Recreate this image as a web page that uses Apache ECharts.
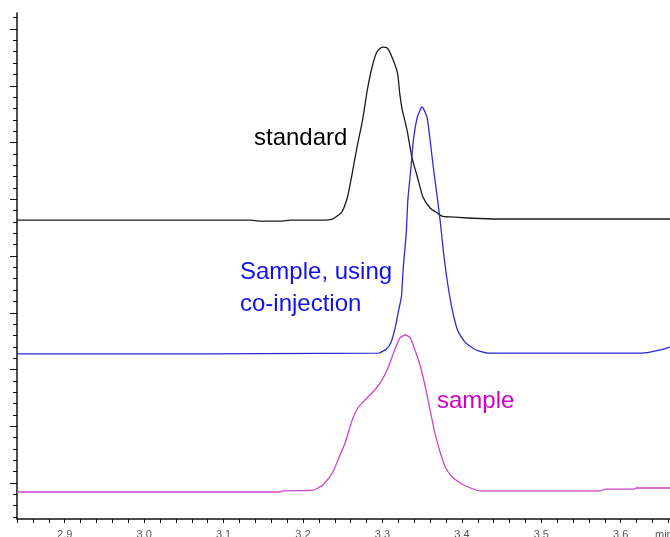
<!DOCTYPE html>
<html>
<head>
<meta charset="utf-8">
<script src="https://cdn.jsdelivr.net/npm/echarts@6/dist/echarts.min.js"></script>
<style>
  html, body { margin: 0; padding: 0; background: #fff; }
  #chart { width: 670px; height: 537px; }
</style>
</head>
<body>
<div id="chart"></div>
<script>
// retention time (min) and detector signal (arbitrary units)
const standardTime = [2.840, 3.134, 3.146, 3.171, 3.184, 3.228, 3.237, 3.243, 3.249, 3.256, 3.262, 3.268, 3.275, 3.281, 3.287, 3.293, 3.300, 3.306, 3.312, 3.319, 3.322, 3.325, 3.331, 3.337, 3.344, 3.351, 3.360, 3.369, 3.375, 3.385, 3.407, 3.448, 3.662];
const standardSignal = [23.17, 23.17, 23.08, 23.08, 23.17, 23.17, 23.26, 23.52, 23.88, 25.20, 27.31, 29.60, 31.98, 34.63, 36.65, 37.97, 38.41, 38.33, 37.53, 36.12, 34.19, 32.86, 31.10, 28.72, 26.96, 25.20, 24.23, 23.79, 23.52, 23.44, 23.35, 23.26, 23.26];

const coinjTime = [2.840, 3.295, 3.305, 3.311, 3.316, 3.320, 3.324, 3.326, 3.330, 3.332, 3.336, 3.339, 3.344, 3.350, 3.356, 3.360, 3.364, 3.369, 3.373, 3.377, 3.382, 3.388, 3.395, 3.405, 3.418, 3.433, 3.625, 3.637, 3.650, 3.662];
const coinjSignal = [11.37, 11.45, 11.81, 12.42, 13.66, 15.07, 16.48, 18.77, 22.03, 24.93, 27.84, 30.22, 32.25, 33.13, 32.25, 30.22, 27.84, 25.20, 22.91, 20.26, 17.62, 15.24, 13.39, 12.33, 11.72, 11.45, 11.45, 11.54, 11.72, 11.98];

const sampleTime = [2.840, 3.171, 3.174, 3.213, 3.219, 3.225, 3.237, 3.244, 3.253, 3.262, 3.269, 3.278, 3.288, 3.297, 3.306, 3.314, 3.322, 3.329, 3.335, 3.341, 3.348, 3.354, 3.360, 3.366, 3.373, 3.379, 3.388, 3.398, 3.411, 3.423, 3.574, 3.581, 3.616, 3.620, 3.662];
const sampleSignal = [-0.79, -0.79, -0.70, -0.62, -0.44, -0.18, 0.88, 2.03, 3.52, 5.55, 6.61, 7.31, 8.02, 8.81, 9.96, 11.45, 12.78, 13.04, 12.78, 11.72, 10.22, 8.46, 6.43, 4.41, 2.64, 1.41, 0.53, 0.00, -0.44, -0.70, -0.70, -0.53, -0.53, -0.44, -0.44];

const xLabels = [2.9, 3.0, 3.1, 3.2, 3.3, 3.4, 3.5, 3.6];
const yMajorTicks = [0, 5, 10, 15, 20, 25, 30, 35, 40];
const yMinorTicks = [-3, -2, -1, 0, 1, 2, 3, 4, 5, 6, 7, 8, 9, 10, 11, 12, 13, 14, 15, 16, 17, 18, 19, 20,
    21, 22, 23, 24, 25, 26, 27, 28, 29, 30, 31, 32, 33, 34, 35, 36, 37, 38, 39, 40, 41];

const FONT = "'Liberation Sans', Arial, sans-serif";
const Y_MIN = -3.17;
const Y_MAX = 41.41;

function pairs(xs, ys) {
    return xs.map((x, i) => [x, ys[i]]);
}

function trace(name, xs, ys, color) {
    return {
        name: name,
        type: 'line',
        data: pairs(xs, ys),
        showSymbol: false,
        smooth: 0.2,
        lineStyle: { color: color, width: 1.3 },
        animation: false
    };
}

const chart = echarts.init(document.getElementById('chart'));

chart.setOption({
    backgroundColor: '#fff',
    animation: false,
    grid: { left: 17, right: 0, top: 13, bottom: 18, containLabel: false, outerBoundsMode: 'none' },
    xAxis: {
        type: 'value',
        min: 2.84,
        max: 3.662,
        interval: 0.02,
        splitLine: { show: false },
        axisLine: { onZero: false, lineStyle: { color: '#111', width: 1.5 } },
        axisTick: { length: 4, lineStyle: { color: '#111' } },
        axisLabel: {
            customValues: xLabels,
            margin: 10,
            fontSize: 11,
            fontFamily: FONT,
            color: '#555',
            formatter: v => Math.abs(v * 10 - Math.round(v * 10)) < 1e-6 ? v.toFixed(1) : ''
        }
    },
    yAxis: [
        {
            type: 'value',
            min: Y_MIN,
            max: Y_MAX,
            splitLine: { show: false },
            axisLine: { show: true, onZero: false, lineStyle: { color: '#111', width: 1.5 } },
            axisTick: { customValues: yMinorTicks, length: 4, lineStyle: { color: '#111' } },
            axisLabel: { show: false }
        },
        {
            type: 'value',
            min: Y_MIN,
            max: Y_MAX,
            position: 'left',
            splitLine: { show: false },
            axisLine: { show: false },
            axisTick: { show: true, customValues: yMajorTicks, length: 7, lineStyle: { color: '#111' } },
            axisLabel: { show: false }
        }
    ],
    series: [
        trace('standard', standardTime, standardSignal, '#1a1a1a'),
        trace('Sample, using co-injection', coinjTime, coinjSignal, '#2a2ad6'),
        trace('sample', sampleTime, sampleSignal, '#cc44cc')
    ],
    graphic: [
        { type: 'text', left: 254, top: 126, style: { text: 'standard', font: '24px ' + FONT, fill: '#000' } },
        { type: 'text', left: 240, top: 260, style: { text: 'Sample, using', font: '24px ' + FONT, fill: '#1010f0' } },
        { type: 'text', left: 240, top: 292, style: { text: 'co-injection', font: '24px ' + FONT, fill: '#1010f0' } },
        { type: 'text', left: 437, top: 389, style: { text: 'sample', font: '24px ' + FONT, fill: '#cc00cc' } },
        { type: 'text', left: 655, top: 529, style: { text: 'min', font: '11px ' + FONT, fill: '#555' } }
    ]
});
</script>
</body>
</html>
